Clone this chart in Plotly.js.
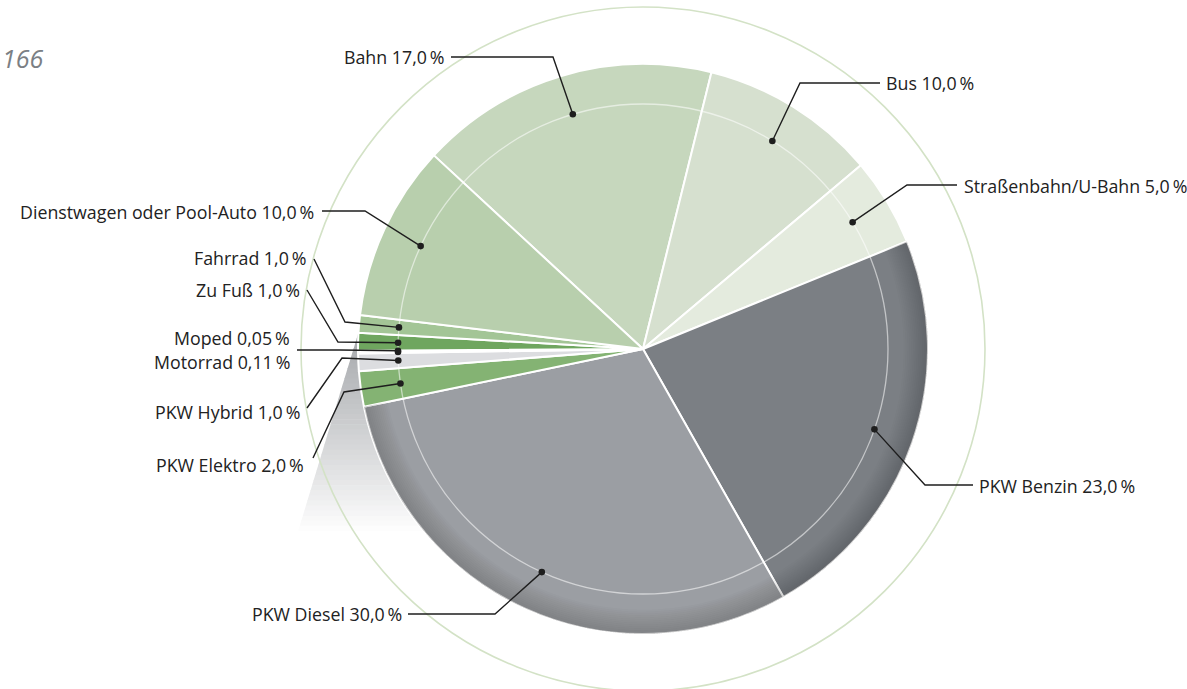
<!DOCTYPE html>
<html>
<head>
<meta charset="utf-8">
<script src="https://cdn.plot.ly/plotly-3.0.1.min.js"></script>
<style>html,body{margin:0;padding:0;background:#fff;}#chart{width:1187px;height:689px;}</style>
</head>
<body>
<div id="chart"></div>
<script>
// ---- data ----
const categories = ["Bahn", "Bus", "Straßenbahn/U-Bahn", "PKW Benzin", "PKW Diesel", "PKW Elektro",
  "PKW Hybrid", "Motorrad", "Moped", "Zu Fuß", "Fahrrad", "Dienstwagen oder Pool-Auto"];
const shares = [17.0, 10.0, 5.0, 23.0, 30.0, 2.0, 1.0, 0.11, 0.05, 1.0, 1.0, 10.0];
const shareLabels = ["17,0", "10,0", "5,0", "23,0", "30,0", "2,0", "1,0", "0,11", "0,05", "1,0", "1,0", "10,0"];
const pageNumber = "166";

// ---- style ----
const sliceColors = ["#c6d7bd", "#d6e0cf", "#e4ebde", "#7b7f84", "#9b9ea3", "#84b373",
  "#dcdde0", "#d0d1d4", "#c8cacd", "#6fa65f", "#a3c596", "#b8cfad"];
const isGray = [false, false, false, true, true, false, false, false, false, false, false, false];

const W = 1187, H = 689;
const CX = 643, CY = 349, R = 285, RDOT = 245, ROUTER = 342;
const ROT = -47.2;
const px = x => x / W, py = y => 1 - y / H;
const FONT = "Open Sans, Lato, DejaVu Sans, sans-serif";

// label placement: anchor x, y, xanchor, leader start, elbow
const labelLayout = [
  {x: 447, y: 57, a: "right", s: [451, 57], e: [553, 57]},
  {x: 884, y: 83, a: "left", s: [880, 83], e: [800, 83]},
  {x: 962, y: 186, a: "left", s: [957, 185], e: [907, 185]},
  {x: 977, y: 486, a: "left", s: [973, 485], e: [925, 485]},
  {x: 404, y: 614, a: "right", s: [408, 614], e: [495, 614]},
  {x: 306, y: 465, a: "right", s: [313, 458], e: [344, 392]},
  {x: 302, y: 412, a: "right", s: [307, 408], e: [342, 358]},
  {x: 292, y: 362, a: "right", s: null, e: null},
  {x: 292, y: 338, a: "right", s: [297, 350], e: [340, 350]},
  {x: 302, y: 290, a: "right", s: [307, 290], e: [338, 342]},
  {x: 308, y: 258, a: "right", s: [314, 259], e: [345, 322]},
  {x: 316, y: 212, a: "right", s: [322, 211], e: [365, 211]}
];

const total = shares.reduce((a, b) => a + b, 0);
let cum = 0;
const dots = shares.map(v => {
  const ang = (ROT + (cum + v / 2) / total * 360) * Math.PI / 180;
  cum += v;
  return [CX + RDOT * Math.sin(ang), CY - RDOT * Math.cos(ang)];
});

const shapes = [];
// shadow wedge (gradient via bands)
const N = 50, yTop = 282, yBot = 536;
const edgeX = y => 372 - 0.3036 * (y - 288);
const c0 = [150, 153, 157], c1 = [255, 255, 255];
for (let i = 0; i < N; i++) {
  const ya = yTop + (yBot - yTop) * i / N, yb = yTop + (yBot - yTop) * (i + 1) / N + 0.6;
  const t = Math.pow(i / (N - 1), 1.15);
  const col = c0.map((c, k) => Math.round(c + (c1[k] - c) * t));
  shapes.push({type: "path", layer: "below", xref: "paper", yref: "paper",
    path: `M${px(edgeX(ya))},${py(ya)} L${px(600)},${py(ya)} L${px(600)},${py(yb)} L${px(edgeX(yb))},${py(yb)} Z`,
    fillcolor: `rgb(${col.join(",")})`, line: {width: 0}});
}
// outer ring
shapes.push({type: "circle", layer: "below", xref: "paper", yref: "paper",
  x0: px(CX - ROUTER), x1: px(CX + ROUTER), y0: py(CY + ROUTER), y1: py(CY - ROUTER),
  line: {color: "#d3e2c6", width: 1.6}});
// inner thin circle
shapes.push({type: "circle", layer: "above", xref: "paper", yref: "paper",
  x0: px(CX - RDOT), x1: px(CX + RDOT), y0: py(CY + RDOT), y1: py(CY - RDOT),
  line: {color: "rgba(255,255,255,0.55)", width: 1.3}});
// leader lines and dots
labelLayout.forEach((L, i) => {
  const d = dots[i];
  if (L.s) {
    shapes.push({type: "path", layer: "above", xref: "paper", yref: "paper",
      path: `M${px(L.s[0])},${py(L.s[1])} L${px(L.e[0])},${py(L.e[1])} L${px(d[0])},${py(d[1])}`,
      line: {color: "#1e1e1e", width: 1.4}});
  }
  const r = 3.3;
  shapes.push({type: "circle", layer: "above", xref: "paper", yref: "paper",
    x0: px(d[0] - r), x1: px(d[0] + r), y0: py(d[1] + r), y1: py(d[1] - r),
    fillcolor: "#1e1e1e", line: {width: 0}});
});

const annotations = categories.map((c, i) => {
  const L = labelLayout[i];
  return {xref: "paper", yref: "paper", x: px(L.x), y: py(L.y), xanchor: L.a, yanchor: "middle",
    text: c + " " + shareLabels[i] + "\u2009%", showarrow: false,
    font: {family: FONT, size: 17.8, color: "#222222"}};
});
annotations.push({xref: "paper", yref: "paper", x: 0, y: py(58), xanchor: "left", yanchor: "middle",
  text: "<i>" + pageNumber + "</i>", showarrow: false, font: {family: FONT, size: 25, color: "#7b7f84"}});

const domain = {x: [px(CX - R), px(CX + R)], y: [py(CY + R), py(CY - R)]};
const base = {type: "pie", values: shares, labels: categories, sort: false, direction: "clockwise",
  rotation: ROT, textinfo: "none", hoverinfo: "skip", showlegend: false, domain: domain,
  marker: {colors: sliceColors, line: {color: "#ffffff", width: 2}}};
const rimHoles = [];
for (let k = 0; k < 12; k++) rimHoles.push(0.915 + k * 0.0065);
const rims = rimHoles.map(h => ({type: "pie", values: shares, labels: categories, sort: false,
  direction: "clockwise", rotation: ROT, textinfo: "none", hoverinfo: "skip", showlegend: false,
  domain: domain, hole: h,
  marker: {colors: isGray.map(g => g ? "rgba(30,32,36,0.018)" : "rgba(0,0,0,0)"), line: {width: 0}}}));

Plotly.newPlot("chart", [base, ...rims], {
  width: W, height: H, margin: {l: 0, r: 0, t: 0, b: 0},
  paper_bgcolor: "#ffffff", plot_bgcolor: "#ffffff", showlegend: false,
  shapes: shapes, annotations: annotations
}, {staticPlot: true});
</script>
</body>
</html>
